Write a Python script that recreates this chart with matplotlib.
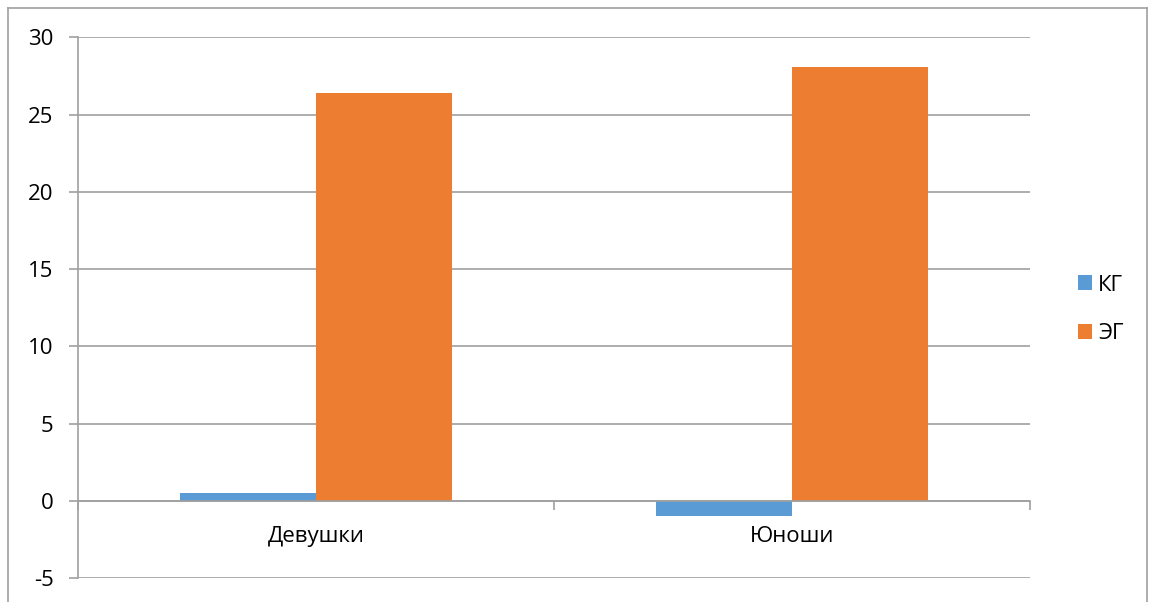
import matplotlib
matplotlib.use("Agg")
import matplotlib.pyplot as plt
import numpy as np
from matplotlib.lines import Line2D
from matplotlib.patches import Patch

plt.rcParams['font.family'] = ['Open Sans', 'DejaVu Sans']
plt.rcParams['axes.unicode_minus'] = False

categories = ["Девушки", "Юноши"]
series_names = ["КГ", "ЭГ"]
kg = [0.55, -0.95]
eg = [26.37, 28.09]
colors = ["#5B9BD5", "#ED7D31"]
grid_color = "#A0A0A0"

W, H = 1150, 602
fig = plt.figure(figsize=(W / 100, H / 100), dpi=100)
ax = fig.add_axes([78 / W, 1 - 578.3 / H, (1030 - 78) / W, (578.3 - 37.3) / H])

x = np.arange(len(categories))
bw = 0.2857
ax.bar(x - bw / 2, kg, bw, color=colors[0], zorder=3)
ax.bar(x + bw / 2, eg, bw, color=colors[1], zorder=3)

ax.set_xlim(-0.5, len(categories) - 0.5)
ax.set_ylim(-5, 30)
ax.set_yticks(np.arange(-5, 31, 5))
ax.yaxis.grid(True, color=grid_color, linewidth=1.2, zorder=0)
ax.tick_params(axis='y', length=6.5, width=1.2, color=grid_color,
               labelsize=16, pad=11)

for s in ['top', 'right']:
    ax.spines[s].set_visible(False)
ax.spines['left'].set_color(grid_color)
ax.spines['left'].set_linewidth(1.2)
ax.spines['bottom'].set_position(('data', 0))
ax.spines['bottom'].set_color(grid_color)
ax.spines['bottom'].set_linewidth(1.2)
ax.spines['bottom'].set_zorder(4)

ax.set_xticks(x)
ax.set_xticklabels(categories)
ax.set_xticks(np.arange(-0.5, len(categories), 1), minor=True)
ax.tick_params(axis='x', which='major', length=0, labelsize=16, pad=18)
ax.tick_params(axis='x', which='minor', length=6.5, width=1.2, color=grid_color)

handles = [Patch(facecolor=c, edgecolor='none') for c in colors]
fig.legend(handles, series_names, loc='center left',
           bbox_to_anchor=(1058 / W, 1 - 309.5 / H), frameon=False,
           fontsize=16, handlelength=0.65, handleheight=0.65,
           handletextpad=0.25, labelspacing=1.25)

# chart area border
bc = "#A0A0A0"
fig.add_artist(Line2D([8 / W, 8 / W], [0, 1 - 8 / H], color=bc, lw=1.2))
fig.add_artist(Line2D([8 / W, 1147 / W], [1 - 8 / H, 1 - 8 / H], color=bc, lw=1.2))
fig.add_artist(Line2D([1147 / W, 1147 / W], [0, 1 - 8 / H], color=bc, lw=1.2))

fig.savefig("out.png", dpi=100)
